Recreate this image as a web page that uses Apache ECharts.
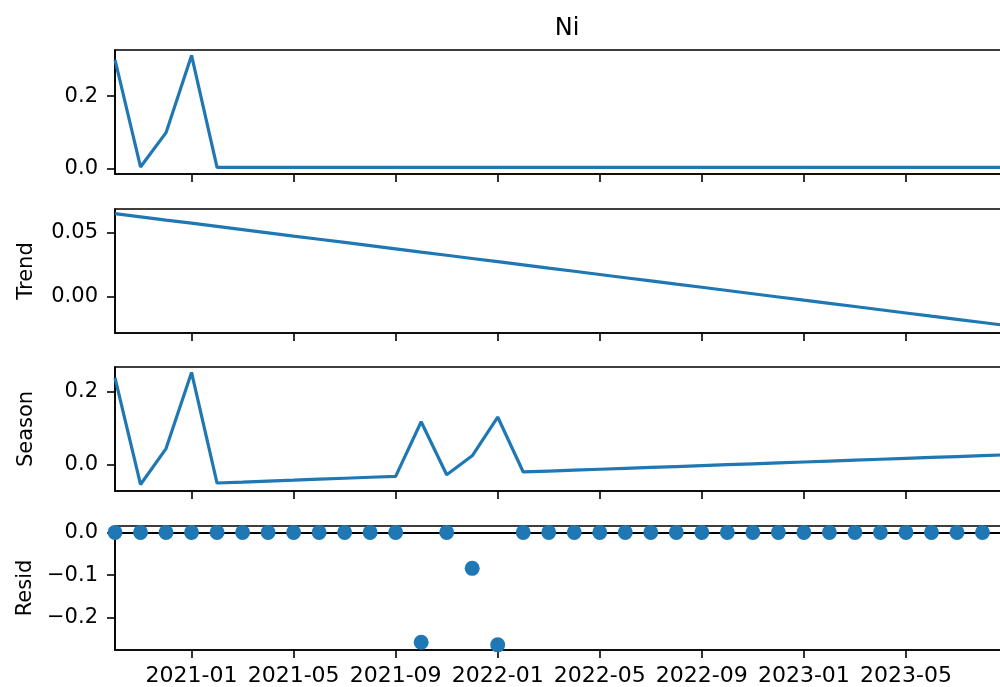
<!DOCTYPE html>
<html>
<head>
<meta charset="utf-8">
<title>Ni decomposition</title>
<script src="https://cdn.jsdelivr.net/npm/echarts@6/dist/echarts.min.js"></script>
<style>
  html, body { margin: 0; padding: 0; background: #fff; overflow: hidden; }
  /* 오른쪽 테두리는 원본처럼 화면 밖으로 잘리도록 조금 넓게 */
  #chart { width: 1010px; height: 687px; }
</style>
</head>
<body>
<div id="chart"></div>
<script>
// 월별 날짜 (2020-10 ~ 2023-09)
var months = [
  '2020-10', '2020-11', '2020-12',
  '2021-01', '2021-02', '2021-03', '2021-04', '2021-05', '2021-06',
  '2021-07', '2021-08', '2021-09', '2021-10', '2021-11', '2021-12',
  '2022-01', '2022-02', '2022-03', '2022-04', '2022-05', '2022-06',
  '2022-07', '2022-08', '2022-09', '2022-10', '2022-11', '2022-12',
  '2023-01', '2023-02', '2023-03', '2023-04', '2023-05', '2023-06',
  '2023-07', '2023-08', '2023-09'
];
var tickMonths = ['2021-01', '2021-05', '2021-09', '2022-01', '2022-05', '2022-09', '2023-01', '2023-05'];

// 관측값
var observed = [
  0.301, 0.004, 0.099, 0.313, 0.003, 0.003, 0.003, 0.003, 0.003,
  0.003, 0.003, 0.003, 0.003, 0.003, 0.003, 0.003, 0.003, 0.003,
  0.003, 0.003, 0.003, 0.003, 0.003, 0.003, 0.003, 0.003, 0.003,
  0.003, 0.003, 0.003, 0.003, 0.003, 0.003, 0.003, 0.003, 0.003
];
// 추세
var trend = [
  0.0645, 0.0620, 0.0595, 0.0571, 0.0546, 0.0521, 0.0496, 0.0471, 0.0447,
  0.0422, 0.0397, 0.0372, 0.0347, 0.0323, 0.0298, 0.0273, 0.0248, 0.0223,
  0.0199, 0.0174, 0.0149, 0.0124, 0.0099, 0.0075, 0.0050, 0.0025, 0.0000,
  -0.0025, -0.0049, -0.0074, -0.0099, -0.0124, -0.0149, -0.0173, -0.0198, -0.0223
];
// 계절성
var season = [
  0.239, -0.055, 0.044, 0.254, -0.051, -0.0484, -0.0457, -0.0431, -0.0404,
  -0.0378, -0.0351, -0.0325, 0.118, -0.028, 0.024, 0.131, -0.0205, -0.0180,
  -0.0155, -0.0130, -0.0105, -0.0080, -0.0055, -0.0030, -0.0005, 0.0020, 0.0045,
  0.0070, 0.0095, 0.0120, 0.0145, 0.0170, 0.0195, 0.0220, 0.0245, 0.0270
];
// 잔차
var resid = [
  0, 0, 0, 0, 0, 0, 0, 0, 0,
  0, 0, 0, -0.257, 0, -0.084, -0.263, 0, 0,
  0, 0, 0, 0, 0, 0, 0, 0, 0,
  0, 0, 0, 0, 0, 0, 0, 0, 0
];

var panelNames = ['', 'Trend', 'Season', 'Resid'];
var yTicks = [[0, 0.2], [0, 0.05], [0, 0.2], [0, -0.1, -0.2]];
var yDigits = [1, 2, 1, 1];
var yRanges = [[-0.0155, 0.328], [-0.0279, 0.0681], [-0.073, 0.269], [-0.275, 0.015]];

var BLUE = '#1f77b4';
var FONT = 'DejaVu Sans';
var tops = [50, 209, 367, 526];

function fmt(d) {
  return function (v) { return v.toFixed(d).replace('-', '\u2212'); };
}

function isTick(idx, val) {
  return tickMonths.indexOf(val) >= 0;
}

var chart = echarts.init(document.getElementById('chart'), null, { renderer: 'canvas' });

var grids = [], xAxes = [], yAxes = [];
for (var i = 0; i < 4; i++) {
  grids.push({
    left: 115, top: tops[i], width: 893, height: 124,
    outerBoundsMode: 'none',
    show: true, borderColor: '#000', borderWidth: 1.6, backgroundColor: 'transparent'
  });
  xAxes.push({
    type: 'category', gridIndex: i, data: months, boundaryGap: false,
    axisLine: { show: true, onZero: false, lineStyle: { color: '#000', width: 1.6 } },
    axisTick: { show: true, interval: isTick, length: 8, lineStyle: { color: '#000', width: 1.6 } },
    axisLabel: {
      show: i === 3, interval: isTick, margin: 15, hideOverlap: false,
      color: '#000', fontSize: 22, fontFamily: FONT
    },
    splitLine: { show: false }
  });
  yAxes.push({
    type: 'value', gridIndex: i, min: yRanges[i][0], max: yRanges[i][1],
    name: panelNames[i], nameLocation: 'middle', nameRotate: 90, nameGap: 78,
    nameTextStyle: { color: '#000', fontSize: 21, fontFamily: FONT },
    axisLine: { show: true, lineStyle: { color: '#000', width: 1.6 } },
    axisTick: { show: true, customValues: yTicks[i], length: 8, lineStyle: { color: '#000', width: 1.6 } },
    axisLabel: {
      customValues: yTicks[i], formatter: fmt(yDigits[i]), margin: 17,
      color: '#000', fontSize: 21, fontFamily: FONT
    },
    splitLine: { show: false }
  });
}

var lineStyle = { color: BLUE, width: 3.2 };

var option = {
  animation: false,
  backgroundColor: '#fff',
  title: {
    text: 'Ni', left: 562, top: 12, textAlign: 'center',
    textStyle: { color: '#000', fontSize: 24, fontWeight: 'normal', fontFamily: FONT }
  },
  grid: grids,
  xAxis: xAxes,
  yAxis: yAxes,
  series: [
    { name: 'Ni', type: 'line', xAxisIndex: 0, yAxisIndex: 0, data: observed,
      showSymbol: false, symbol: 'none', lineStyle: lineStyle },
    { name: 'Trend', type: 'line', xAxisIndex: 1, yAxisIndex: 1, data: trend,
      showSymbol: false, symbol: 'none', lineStyle: lineStyle },
    { name: 'Season', type: 'line', xAxisIndex: 2, yAxisIndex: 2, data: season,
      showSymbol: false, symbol: 'none', lineStyle: lineStyle },
    { name: 'Resid', type: 'scatter', xAxisIndex: 3, yAxisIndex: 3, data: resid,
      symbolSize: 15, itemStyle: { color: BLUE, opacity: 1 }, z: 3,
      markLine: {
        silent: true, symbol: 'none', z: 1, animation: false,
        label: { show: false },
        lineStyle: { color: '#000', width: 2, type: 'solid' },
        data: [{ yAxis: 0 }]
      }
    }
  ]
};

chart.setOption(option);
</script>
</body>
</html>
